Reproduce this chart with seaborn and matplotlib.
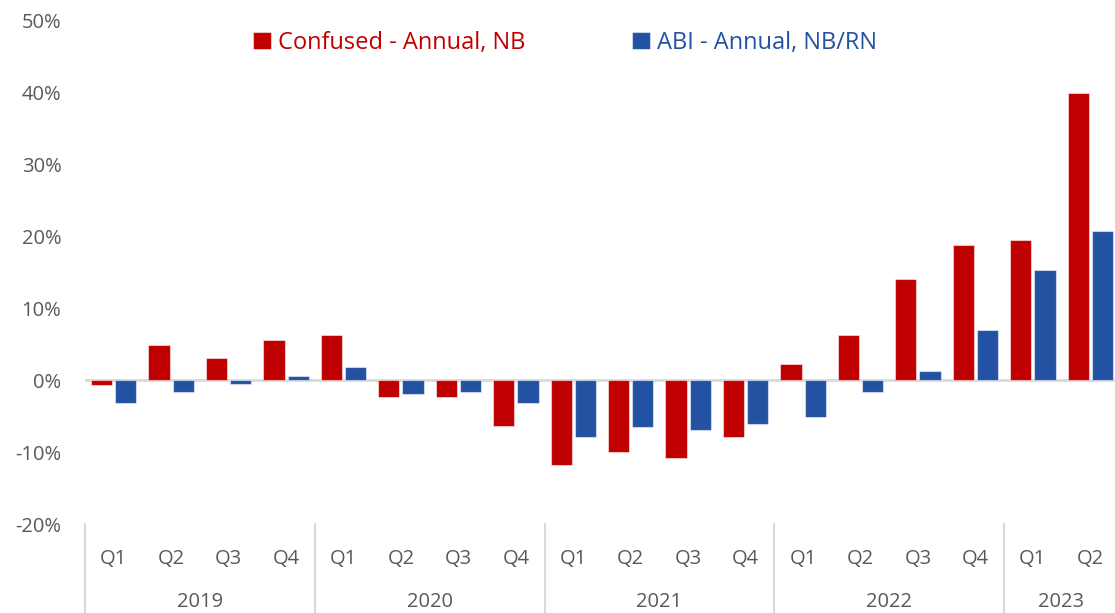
import pandas as pd
import seaborn as sns
import matplotlib.pyplot as plt
from matplotlib.transforms import blended_transform_factory

# data (percent, annual change)
years = ['2019', '2020', '2021', '2022', '2023']
quarters = ['Q1', 'Q2', 'Q3', 'Q4'] * 4 + ['Q1', 'Q2']
quarter_years = ['2019'] * 4 + ['2020'] * 4 + ['2021'] * 4 + ['2022'] * 4 + ['2023'] * 2
confused = [-0.7, 4.9, 3.1, 5.5, 6.2, -2.4, -2.4, -6.4, -11.8, -10.0,
            -10.8, -7.9, 2.2, 6.2, 14.0, 18.8, 19.5, 39.9]
abi = [-3.2, -1.6, -0.55, 0.55, 1.8, -1.9, -1.7, -3.2, -7.9, -6.5,
       -6.9, -6.1, -5.2, -1.6, 1.3, 6.9, 15.3, 20.7]
series_names = ['Confused - Annual, NB', 'ABI - Annual, NB/RN']

RED = '#C00000'
BLUE = '#2452A2'
GREY = '#595959'

periods = [f'{y} {q}' for y, q in zip(quarter_years, quarters)]
df = pd.DataFrame({
    'period': periods * 2,
    'value': confused + abi,
    'series': [series_names[0]] * len(periods) + [series_names[1]] * len(periods),
})

sns.set_style('white')
plt.rcParams['font.family'] = ['Open Sans', 'DejaVu Sans']

fig = plt.figure(figsize=(11.15, 6.13), dpi=100)
ax = fig.add_axes([85 / 1115, 89 / 613, 1034 / 1115, 504 / 613])

ax.axhline(0, color='#D9D9D9', lw=2, zorder=0)
sns.barplot(data=df, x='period', y='value', hue='series', order=periods,
            hue_order=series_names, palette=[RED, BLUE], saturation=1,
            width=0.84, gap=0.12, edgecolor=(1, 1, 1, 0.5), linewidth=0.8, ax=ax)

ax.set_ylim(-20, 50)
ax.set_xlim(-0.5, len(periods) - 0.5)
ax.set_yticks(range(-20, 51, 10))
ax.set_yticklabels([f'{v}%' for v in range(-20, 51, 10)])
ax.set_xticks(range(len(periods)))
ax.set_xticklabels(quarters)
ax.tick_params(axis='y', length=0, pad=17, labelsize=14.5, labelcolor=GREY)
ax.tick_params(axis='x', length=0, pad=18, labelsize=14.5, labelcolor=GREY)
ax.set_xlabel('')
ax.set_ylabel('')
sns.despine(ax=ax, left=True, bottom=True, top=True, right=True)

# year groups under the quarter labels
trans = blended_transform_factory(ax.transData, ax.transAxes)
start = 0
for y in years:
    n = quarter_years.count(y)
    ax.plot([start - 0.5, start - 0.5], [0, -0.18], transform=trans,
            color='#D9D9D9', lw=1.5, clip_on=False)
    ax.text(start + (n - 1) / 2, -0.155, y, transform=trans, ha='center',
            va='center', fontsize=14.5, color=GREY)
    start += n

handles, labels = ax.get_legend_handles_labels()
ax.get_legend().remove()
leg = fig.legend(handles, labels, loc='center', bbox_to_anchor=(565 / 1115, 1 - 43 / 613),
                 ncol=2, frameon=False, fontsize=17, handlelength=0.75,
                 handleheight=0.75, handletextpad=0.3, columnspacing=4.5)
for text, color in zip(leg.get_texts(), [RED, BLUE]):
    text.set_color(color)

fig.savefig('out.png', dpi=100)
